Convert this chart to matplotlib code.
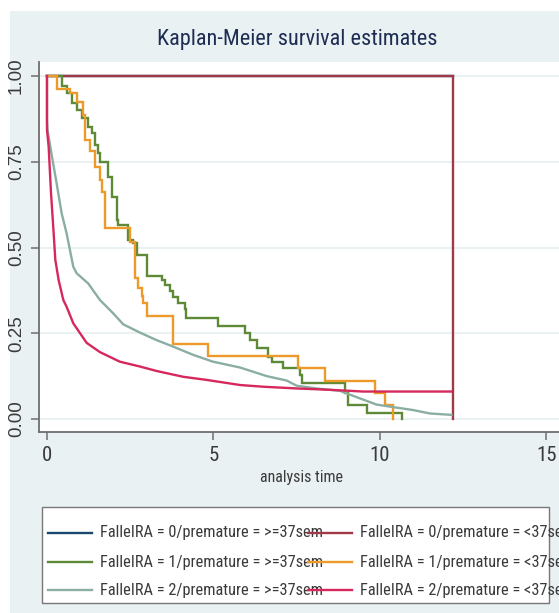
import matplotlib
matplotlib.use("Agg")
import warnings
warnings.filterwarnings("ignore")
import matplotlib.pyplot as plt
from matplotlib.patches import Rectangle
from matplotlib.lines import Line2D

NARROW = ['Liberation Sans Narrow', 'Arial Narrow', 'Roboto Condensed', 'PT Sans Narrow',
          'Archivo Narrow', 'DejaVu Sans']
REG = ['Liberation Sans', 'Arimo', 'DejaVu Sans']

# ---------------- data ----------------
labels = [
    "FalleIRA = 0/premature = >=37sem",
    "FalleIRA = 0/premature = <37sem",
    "FalleIRA = 1/premature = >=37sem",
    "FalleIRA = 1/premature = <37sem",
    "FalleIRA = 2/premature = >=37sem",
    "FalleIRA = 2/premature = <37sem",
]
colors = ["#1A476F", "#A03A48", "#5E8A38", "#EE9A2A", "#8AAEA2", "#D6285C"]

t_g0_term = [0, 12.2]
s_g0_term = [1.0, 1.0]

t_g0_pre = [0, 12.2, 12.2]
s_g0_pre = [1.0, 1.0, 0.0]

t_g1_term = [0, 0.44, 0.59, 0.74, 0.90, 1.04, 1.24, 1.34, 1.44, 1.54, 1.59, 1.84, 1.94,
             2.09, 2.14, 2.44, 2.59, 2.69, 2.99, 3.45, 3.55, 3.70, 3.79, 3.94, 4.14,
             4.19, 5.14, 5.95, 6.10, 6.30, 6.65, 6.75, 7.10, 7.60, 7.67, 8.95, 9.05,
             9.60, 10.65]
s_g1_term = [1.0, 0.97, 0.95, 0.92, 0.90, 0.877, 0.852, 0.833, 0.80, 0.775, 0.75, 0.706, 0.648,
             0.58, 0.566, 0.522, 0.513, 0.478, 0.417, 0.405, 0.39, 0.372, 0.356, 0.337, 0.32,
             0.293, 0.271, 0.25, 0.23, 0.207, 0.182, 0.167, 0.148, 0.128, 0.105, 0.075, 0.041,
             0.016, 0.0]

t_g1_pre = [0, 0.30, 0.70, 0.90, 1.09, 1.14, 1.29, 1.44, 1.59, 1.64, 1.74, 2.49, 2.64,
            2.74, 2.84, 2.89, 2.99, 3.79, 4.84, 7.55, 8.35, 9.85, 10.15, 10.38]
s_g1_pre = [1.0, 0.962, 0.95, 0.925, 0.886, 0.813, 0.78, 0.735, 0.697, 0.663, 0.556, 0.517, 0.41,
            0.381, 0.36, 0.337, 0.30, 0.22, 0.185, 0.15, 0.111, 0.075, 0.041, 0.0]

t_g2_term = [0, 0.0, 0.02, 0.15, 0.29, 0.44, 0.59, 0.79, 0.89, 1.24, 1.59, 1.99, 2.29, 2.79,
             3.29, 3.79, 4.39, 4.99, 5.80, 6.6, 7.2, 7.5, 8.1, 8.8, 9.4, 9.9, 10.3, 11.0,
             11.5, 12.15]
s_g2_term = [1.0, 0.87, 0.84, 0.765, 0.687, 0.60, 0.541, 0.444, 0.425, 0.395, 0.347, 0.308, 0.276,
             0.252, 0.23, 0.211, 0.187, 0.167, 0.15, 0.125, 0.112, 0.097, 0.089, 0.082, 0.06,
             0.042, 0.036, 0.026, 0.016, 0.012]

t_g2_pre = [0, 0.0, 0.05, 0.12, 0.20, 0.25, 0.35, 0.49, 0.59, 0.79, 1.19, 1.59, 2.19, 2.79,
            3.29, 4.09, 4.79, 5.80, 6.50, 7.50, 8.5, 9.5, 12.15]
s_g2_pre = [1.0, 0.843, 0.794, 0.66, 0.542, 0.464, 0.405, 0.347, 0.327, 0.279, 0.222, 0.195, 0.167,
            0.153, 0.140, 0.123, 0.114, 0.099, 0.094, 0.089, 0.085, 0.08, 0.08]

xticks = [0, 5, 10, 15]
yticks = [0.0, 0.25, 0.5, 0.75, 1.0]
ytick_labels = ["0.00", "0.25", "0.50", "0.75", "1.00"]

# ---------------- figure ----------------
W, H = 559, 613
fig = plt.figure(figsize=(W / 100, H / 100), dpi=100, facecolor="white")

bg = "#EAF1F3"
fig.add_artist(Rectangle((10 / W, 0), 1, (H - 11) / H, transform=fig.transFigure,
                         facecolor=bg, edgecolor="none", zorder=-10))

ax_left, ax_right = 39, 563
ax_top, ax_bot = 62, 432
ax = fig.add_axes([ax_left / W, (H - ax_bot) / H, (ax_right - ax_left) / W, (ax_bot - ax_top) / H])
ax.set_facecolor("white")
ax.set_xlim(-0.24, 15.5)
ax.set_ylim(-0.038, 1.041)

for y in yticks:
    ax.axhline(y, color="#E6EFF1", lw=1.2, zorder=0)

series = [
    (t_g0_term, s_g0_term, "steps-post"),
    (t_g0_pre, s_g0_pre, "steps-post"),
    (t_g1_term, s_g1_term, "steps-post"),
    (t_g1_pre, s_g1_pre, "steps-post"),
    (t_g2_term, s_g2_term, "default"),
    (t_g2_pre, s_g2_pre, "default"),
]
for (t, s, ds), c in zip(series, colors):
    ax.plot(t, s, color=c, lw=1.7, drawstyle=ds, solid_joinstyle="miter")

for side in ["top", "right"]:
    ax.spines[side].set_visible(False)
for side in ["left", "bottom"]:
    ax.spines[side].set_color("#6E6E6E")
    ax.spines[side].set_linewidth(1.3)

ax.set_xticks(xticks)
ax.set_xticklabels([str(x) for x in xticks], fontfamily=NARROW, fontsize=15, color="#3A3A3A")
ax.set_yticks(yticks)
ax.set_yticklabels(ytick_labels, rotation=90, va="center", fontfamily=REG, fontsize=13.5,
                   color="#3A3A3A")
ax.tick_params(axis="both", direction="out", length=6, width=1.1, color="#6E6E6E", pad=4)

ax.set_xlabel("analysis time", fontfamily=NARROW, fontsize=11.5, color="#3A3A3A", labelpad=4)

fig.text(297 / W, 1 - 40 / H, "Kaplan-Meier survival estimates", ha="center", va="center",
         fontfamily=NARROW, fontsize=16, color="#1E2D54")

# ---------------- legend ----------------
lx0, lx1, ly0, ly1 = 42, 549, 507, 603
fig.add_artist(Rectangle((lx0 / W, 1 - ly1 / H), (lx1 - lx0) / W, (ly1 - ly0) / H,
                         transform=fig.transFigure, facecolor="white", edgecolor="#777777",
                         lw=1.0, zorder=5))
row_y = [533, 562, 590]
col_line = [(48, 92), (308, 352)]
col_text = [100, 360]
for i, (lab, c) in enumerate(zip(labels, colors)):
    r, col = i // 2, i % 2
    y = 1 - row_y[r] / H
    x0, x1 = col_line[col]
    fig.add_artist(Line2D([x0 / W, x1 / W], [y, y], transform=fig.transFigure, color=c,
                          lw=1.7, zorder=7))
    fig.text(col_text[col] / W, y, lab, ha="left", va="center", fontfamily=NARROW,
             fontsize=11.8, color="#3A3A3A", zorder=6)

fig.savefig("out.png", dpi=100, facecolor="white")
